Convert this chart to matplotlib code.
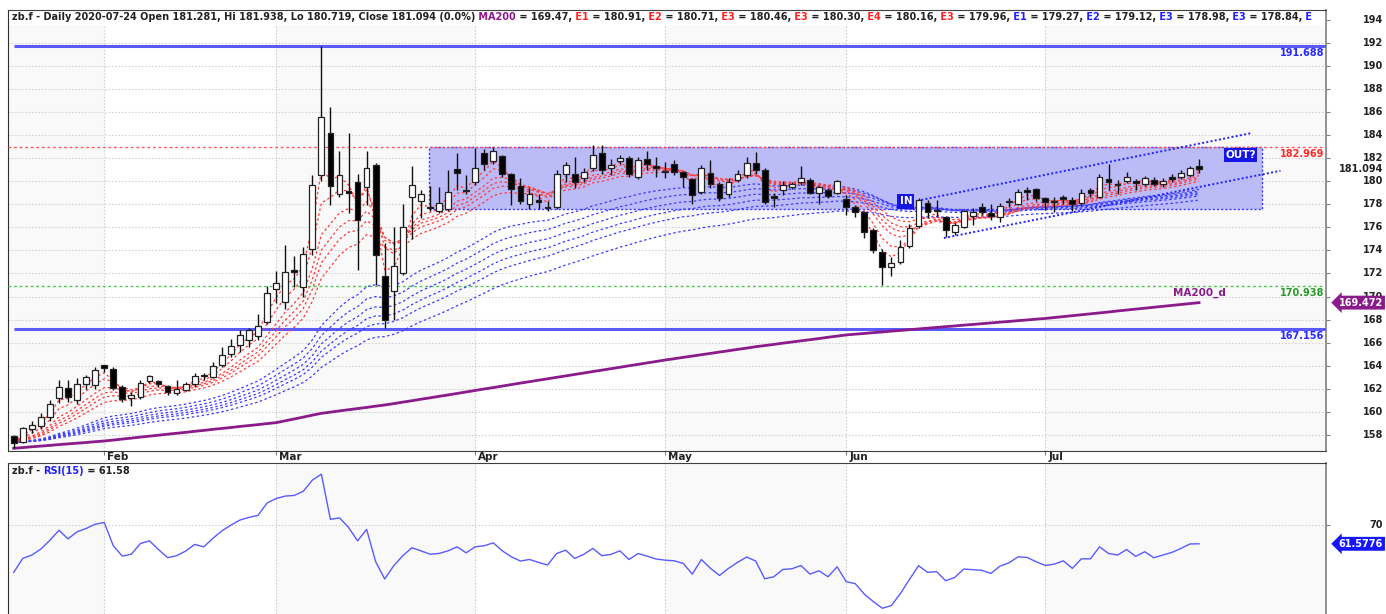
import numpy as np
import pandas as pd
import matplotlib
matplotlib.use("Agg")
import matplotlib.pyplot as plt
import matplotlib.transforms as mtransforms
from matplotlib.patches import Rectangle

# ---------------- data ----------------
opens = [157.90, 157.40, 158.50, 158.80, 159.60, 161.20, 162.10, 161.00, 162.40, 162.30,
         164.05, 163.70, 162.20, 161.20, 161.30, 162.70, 162.70, 162.25, 161.60, 161.90,
         162.40, 163.10, 163.05, 164.10, 165.00, 165.80, 166.20, 166.60, 167.80, 170.65,
         169.50, 172.30, 170.85, 174.10, 180.50, 184.15, 178.90, 179.10, 179.90, 179.50,
         181.40, 171.80, 170.50, 172.00, 178.65, 178.30, 177.75, 177.40, 177.60, 181.05,
         179.25, 179.95, 182.40, 181.75, 182.20, 180.60, 179.60, 178.00, 178.40, 177.75,
         177.80, 180.60, 180.60, 180.25, 181.10, 182.40, 181.10, 181.75, 182.00, 180.40,
         181.90, 181.25, 180.85, 181.45, 180.80, 180.20, 179.10, 180.70, 179.75, 178.85,
         180.10, 180.50, 181.60, 181.00, 178.65, 179.20, 179.50, 179.90, 180.10, 178.95,
         179.20, 179.00, 178.45, 177.75, 177.30, 175.75, 173.90, 172.60, 173.00, 174.40,
         176.10, 178.10, 177.50, 176.85, 175.60, 176.00, 177.00, 177.80, 177.20, 176.85,
         178.25, 178.00, 179.20, 179.30, 178.50, 178.25, 178.60, 178.40, 178.10, 179.20,
         178.65, 180.20, 179.75, 180.00, 179.95, 179.75, 180.10, 179.75, 180.30, 180.40,
         180.50, 181.281]
highs = [158.00, 158.70, 159.20, 159.90, 161.00, 162.80, 162.80, 162.90, 163.20, 163.90,
         164.10, 163.90, 162.30, 161.70, 162.80, 163.20, 162.80, 162.30, 162.80, 162.60,
         163.40, 163.35, 164.30, 165.65, 166.30, 167.10, 167.30, 168.50, 170.90, 172.20,
         174.50, 173.50, 174.30, 180.50, 191.70, 186.40, 182.60, 184.20, 180.60, 182.60,
         181.60, 174.60, 176.00, 178.00, 181.30, 179.20, 179.60, 179.50, 181.00, 182.40,
         180.50, 182.85, 182.75, 183.00, 182.30, 180.70, 180.30, 179.40, 178.90, 178.30,
         181.00, 181.70, 182.10, 181.10, 183.10, 183.10, 181.90, 182.30, 182.20, 182.10,
         182.60, 182.10, 181.70, 181.80, 180.90, 180.30, 181.40, 181.80, 179.90, 180.30,
         181.00, 182.10, 182.50, 181.10, 178.95, 180.00, 179.90, 181.30, 180.30, 179.60,
         179.40, 180.10, 178.80, 177.90, 177.45, 175.90, 174.10, 173.40, 174.90, 176.30,
         178.50, 178.40, 178.40, 177.00, 176.40, 177.50, 177.70, 178.10, 178.00, 178.10,
         178.50, 179.30, 179.50, 179.40, 178.60, 178.60, 178.80, 178.60, 179.30, 179.40,
         180.60, 181.50, 180.10, 180.80, 180.20, 180.45, 180.40, 180.30, 180.60, 181.00,
         181.30, 181.938]
lows = [156.90, 157.30, 158.20, 158.50, 159.20, 160.80, 160.90, 160.70, 162.00, 162.00,
        163.50, 161.90, 160.90, 160.50, 161.10, 162.50, 162.20, 161.50, 161.50, 161.80,
        162.20, 162.80, 162.90, 163.90, 164.80, 165.20, 165.60, 166.20, 167.60, 169.40,
        168.90, 170.80, 170.00, 173.60, 180.00, 177.90, 178.60, 177.20, 172.30, 177.90,
        171.00, 167.25, 168.00, 171.90, 175.00, 176.80, 177.40, 177.20, 177.40, 179.20,
        178.90, 179.70, 181.00, 181.50, 180.40, 177.90, 178.00, 177.60, 177.60, 177.40,
        177.60, 179.90, 179.40, 179.90, 180.90, 180.60, 180.50, 181.50, 180.40, 180.20,
        181.00, 180.40, 180.30, 180.50, 179.50, 178.00, 178.90, 179.40, 178.30, 178.60,
        179.90, 180.30, 180.60, 178.00, 177.80, 178.80, 179.30, 179.70, 178.90, 178.00,
        178.50, 178.90, 177.10, 176.90, 175.10, 173.80, 171.00, 171.80, 172.80, 174.20,
        175.90, 176.80, 176.90, 175.20, 175.30, 175.90, 176.20, 177.10, 176.60, 176.50,
        177.80, 177.90, 178.40, 178.30, 177.50, 177.30, 178.00, 177.40, 177.90, 178.60,
        178.50, 179.20, 178.90, 179.80, 179.20, 179.60, 179.60, 179.50, 179.90, 180.20,
        180.35, 180.719]
closes = [157.35, 158.60, 158.90, 159.60, 160.70, 162.20, 161.30, 162.40, 163.00, 163.60,
          163.80, 162.05, 161.15, 161.50, 162.50, 163.10, 162.45, 161.70, 161.95, 162.40,
          163.15, 163.15, 164.00, 164.90, 165.75, 166.70, 167.10, 167.45, 170.30, 171.15,
          172.10, 172.10, 173.70, 179.70, 185.60, 179.60, 180.50, 179.00, 176.60, 181.10,
          173.60, 168.00, 172.65, 176.05, 179.70, 178.90, 177.65, 178.10, 179.10, 180.70,
          179.15, 181.10, 181.50, 182.60, 180.60, 179.30, 178.30, 178.85, 178.20, 177.65,
          180.60, 181.40, 179.95, 180.80, 182.30, 180.95, 181.40, 182.00, 180.60, 181.80,
          181.45, 181.15, 180.75, 180.80, 180.40, 178.80, 181.10, 179.75, 178.50, 179.90,
          180.60, 181.60, 180.95, 178.20, 178.55, 179.70, 179.75, 180.25, 179.00, 179.45,
          178.70, 180.00, 177.80, 177.35, 175.55, 174.00, 172.55, 172.90, 174.30, 175.95,
          178.35, 177.30, 177.40, 175.75, 176.20, 177.40, 177.30, 177.35, 176.95, 177.85,
          178.15, 179.10, 179.10, 178.55, 178.15, 178.15, 178.45, 178.00, 179.00, 178.95,
          180.40, 179.90, 179.65, 180.35, 179.85, 180.25, 179.75, 180.00, 180.20, 180.70,
          181.10, 181.094]
ma200 = [156.85, 156.91, 156.98, 157.04, 157.10, 157.17, 157.23, 157.29, 157.35, 157.42,
         157.48, 157.56, 157.65, 157.73, 157.82, 157.90, 157.98, 158.07, 158.15, 158.23,
         158.32, 158.40, 158.49, 158.57, 158.65, 158.74, 158.82, 158.90, 158.99, 159.07,
         159.23, 159.39, 159.55, 159.72, 159.88, 159.98, 160.09, 160.19, 160.29, 160.39,
         160.50, 160.60, 160.72, 160.85, 160.97, 161.10, 161.22, 161.35, 161.47, 161.60,
         161.73, 161.86, 161.99, 162.11, 162.24, 162.37, 162.50, 162.62, 162.75, 162.87,
         163.00, 163.12, 163.25, 163.37, 163.50, 163.62, 163.75, 163.87, 164.00, 164.12,
         164.25, 164.37, 164.50, 164.61, 164.73, 164.84, 164.96, 165.07, 165.19, 165.30,
         165.42, 165.53, 165.65, 165.75, 165.85, 165.96, 166.06, 166.16, 166.26, 166.36,
         166.47, 166.57, 166.67, 166.74, 166.80, 166.87, 166.93, 167.00, 167.06, 167.13,
         167.19, 167.26, 167.32, 167.39, 167.45, 167.52, 167.58, 167.65, 167.71, 167.78,
         167.84, 167.91, 167.97, 168.04, 168.10, 168.18, 168.26, 168.34, 168.42, 168.50,
         168.58, 168.66, 168.75, 168.83, 168.91, 168.99, 169.07, 169.15, 169.23, 169.31,
         169.39, 169.47]
rsi15 = [48.7, 55.0, 56.5, 59.2, 63.2, 67.7, 63.8, 67.0, 68.5, 70.4,
         71.2, 60.7, 56.0, 56.9, 61.7, 62.9, 59.0, 55.3, 56.2, 58.3,
         61.3, 60.2, 64.0, 67.4, 70.0, 72.3, 73.5, 74.4, 80.0, 82.0,
         83.1, 83.4, 85.3, 90.3, 93.0, 72.6, 73.3, 69.0, 62.9, 68.1,
         53.5, 45.7, 51.7, 56.2, 59.8, 58.4, 56.9, 57.2, 58.4, 60.2,
         57.5, 60.2, 60.7, 62.0, 58.4, 55.7, 53.8, 54.5, 53.2, 52.0,
         57.2, 58.7, 55.0, 56.8, 59.5, 56.2, 56.8, 58.4, 54.5, 57.2,
         56.0, 54.7, 54.2, 53.9, 52.7, 47.9, 54.5, 50.5, 47.3, 50.5,
         53.2, 55.6, 53.8, 45.8, 46.7, 50.0, 50.3, 51.8, 47.9, 49.4,
         46.7, 51.2, 44.5, 43.6, 38.9, 35.5, 32.5, 33.7, 39.2, 45.5,
         51.7, 48.7, 49.0, 44.9, 46.4, 50.2, 49.9, 49.6, 48.2, 51.5,
         53.0, 55.7, 55.4, 53.5, 51.8, 52.4, 53.9, 50.5, 54.8, 54.8,
         60.2, 57.2, 56.5, 59.0, 55.9, 58.0, 55.3, 56.5, 57.7, 59.5,
         61.5, 61.58]

month_labels = ["Feb", "Mar", "Apr", "May", "Jun", "Jul"]
month_starts = [10, 29, 51, 72, 92, 114]
price_ticks = list(range(158, 196, 2))
ema_red_spans = [3, 5, 8, 10, 12, 15]
ema_blue_spans = [30, 35, 40, 45, 50, 60]
level_resist = 191.688
level_box_top = 182.969
level_green = 170.938
level_support = 167.156
box_bottom = 177.6
box_left, box_right = 45.9, 138.0
chan_upper_x, chan_upper_y = [100.3, 136.7], [178.37, 184.15]
chan_lower_x, chan_lower_y = [102.8, 140.0], [175.07, 180.90]
last_close = 181.094
last_ma200 = 169.472
last_rsi = 61.5776

header_parts = [
    ("zb.f - Daily 2020-07-24 Open 181.281, Hi 181.938, Lo 180.719, Close 181.094 (0.0%)", "#222222"),
    (" MA200", "#8b1a8b"), (" = 169.47,", "#222222"),
    (" E1", "#ff2020"), (" = 180.91,", "#222222"),
    (" E2", "#ff2020"), (" = 180.71,", "#222222"),
    (" E3", "#ff2020"), (" = 180.46,", "#222222"),
    (" E3", "#ff2020"), (" = 180.30,", "#222222"),
    (" E4", "#ff2020"), (" = 180.16,", "#222222"),
    (" E3", "#ff2020"), (" = 179.96,", "#222222"),
    (" E1", "#2020ff"), (" = 179.27,", "#222222"),
    (" E2", "#2020ff"), (" = 179.12,", "#222222"),
    (" E3", "#2020ff"), (" = 178.98,", "#222222"),
    (" E3", "#2020ff"), (" = 178.84,", "#222222"),
    (" E", "#2020ff"),
]
rsi_header_parts = [("zb.f - ", "#222222"), ("RSI(15)", "#2020ff"), (" = 61.58", "#222222")]

# ---------------- figure ----------------
W, H = 1386, 614
fig = plt.figure(figsize=(W / 100, H / 100), dpi=100)
fig.patch.set_facecolor("white")
L, R = 8.3, 1325.7
ax = fig.add_axes([L / W, 1 - 450.7 / H, (R - L) / W, (450.7 - 10) / H])
ax2 = fig.add_axes([L / W, 0, (R - L) / W, (H - 463.3) / H])

n = len(closes)
x = np.arange(n)
xlim = (-0.6, 145.0)
for a in (ax, ax2):
    a.set_xlim(*xlim)
    a.set_facecolor("white")
    bounds = [xlim[0]] + month_starts + [xlim[1]]
    for k in range(len(bounds) - 1):
        if k % 2 == 0:
            a.axvspan(bounds[k], bounds[k + 1], color="#f9f9f9", lw=0, zorder=0)
    for m in month_starts:
        a.axvline(m, color="#cfcfcf", lw=0.8, ls=(0, (1.5, 1.5)), zorder=1)

ax.set_ylim(156.64, 194.83)
ax2.set_ylim(29.9, 97.9)

for v in price_ticks:
    ax.axhline(v, color="#d4d4d4", lw=0.8, ls=(0, (1.5, 1.5)), zorder=1)
ax2.axhline(70, color="#d4d4d4", lw=0.8, ls=(0, (1.5, 1.5)), zorder=1)

ax.add_patch(Rectangle((0, 1 - 15 / 440.7), 1, 15 / 440.7, transform=ax.transAxes,
                       facecolor="white", edgecolor="none", zorder=1.5))

# box zone
ax.add_patch(Rectangle((box_left, box_bottom), box_right - box_left, level_box_top - box_bottom,
                       facecolor="#bbbbf8", edgecolor="#3a3aff", lw=1.0, ls=(0, (1.5, 1.5)), zorder=2))

# horizontal levels
ax.hlines(level_resist, 0, xlim[1], color="#5a5aff", lw=2.2, zorder=3)
ax.hlines(level_support, 0, xlim[1], color="#5a5aff", lw=2.2, zorder=3)
ax.hlines(level_box_top, xlim[0], xlim[1], color="#ff5a5a", lw=1.0, ls=(0, (2, 2)), zorder=3)
ax.hlines(level_green, xlim[0], xlim[1], color="#50c850", lw=1.0, ls=(0, (2, 2)), zorder=3)

# MA200
ax.plot(x, ma200, color="#8b1a8b", lw=2.0, zorder=4)

# EMA ribbons (computed from the closes)
cs = pd.Series(closes)
for sp in ema_blue_spans:
    ax.plot(x, cs.ewm(span=sp, adjust=False).mean(), color="#3c3cff", lw=0.9,
            ls=(0, (2, 2)), zorder=4.5)
for sp in ema_red_spans:
    ax.plot(x, cs.ewm(span=sp, adjust=False).mean(), color="#ff3c3c", lw=0.9,
            ls=(0, (2, 2)), zorder=4.6)

# channel lines
ax.plot(chan_upper_x, chan_upper_y, color="#2020ff", lw=1.4, ls=(0, (1, 1.2)), zorder=4.7)
ax.plot(chan_lower_x, chan_lower_y, color="#2020ff", lw=1.4, ls=(0, (1, 1.2)), zorder=4.7)

# candles
o = np.array(opens); c = np.array(closes); hi = np.array(highs); lo = np.array(lows)
ax.vlines(x, lo, hi, color="#111111", lw=1.0, zorder=5)
up = c >= o
body_low = np.minimum(o, c)
body_h = np.maximum(np.abs(c - o), 0.12)
ax.bar(x, body_h, bottom=body_low, width=0.64,
       color=np.where(up, "white", "black"), edgecolor="#222222", linewidth=0.9, zorder=6)

# RSI
ax2.plot(x, rsi15, color="#5a5aff", lw=1.0, zorder=4)

for a in (ax, ax2):
    a.spines["left"].set_color("#303030")
    a.spines["top"].set_color("#404040")
    a.spines["right"].set_color("#8a8a8a")
    a.spines["right"].set_linewidth(1.3)
    a.spines["bottom"].set_color("#404040")
ax2.spines["bottom"].set_visible(False)

ax.set_xticks(month_starts)
ax.tick_params(axis="x", direction="out", length=3, color="#808080", labelbottom=False)
ax2.set_xticks([])
ax.set_yticks(price_ticks)
ax.tick_params(axis="y", left=False, labelleft=False, right=True, labelright=False,
               direction="out", length=3, color="#808080")
ax2.set_yticks([70])
ax2.tick_params(axis="y", left=False, labelleft=False, right=True, labelright=False,
                direction="out", length=3, color="#808080")

FS = 7
lab_x = 1 + (1383 - R) / (R - L)
tr_main = mtransforms.blended_transform_factory(ax.transAxes, ax.transData)
tr_rsi = mtransforms.blended_transform_factory(ax2.transAxes, ax2.transData)
for v in price_ticks:
    ax.text(lab_x, v, str(v), transform=tr_main, ha="right", va="center",
            fontsize=FS, fontweight="bold", color="#222222", clip_on=False, zorder=1)
ax2.text(lab_x, 70, "70", transform=tr_rsi, ha="right", va="center",
         fontsize=FS, fontweight="bold", color="#222222", clip_on=False)

tr_x = mtransforms.blended_transform_factory(ax.transData, ax.transAxes)
for m, lab in zip(month_starts, month_labels):
    ax.text(m + 0.35, -6.8 / 440.7, lab, transform=tr_x, ha="left", va="center",
            fontsize=7.5, fontweight="bold", color="#222222", clip_on=False)

def level_label(val, txt, col):
    ax.annotate(txt, xy=(1, val), xycoords=tr_main, xytext=(-1, -1.5), textcoords="offset points",
                ha="right", va="top", fontsize=FS, fontweight="bold", color=col, zorder=8)

level_label(level_resist, "191.688", "#2a2aff")
level_label(level_box_top, "182.969", "#ff2a2a")
level_label(level_green, "170.938", "#2a9a2a")
level_label(level_support, "167.156", "#2a2aff")

ax.annotate("MA200_d", xy=(n - 1, ma200[-1]), xytext=(0, 3), textcoords="offset points",
            ha="center", va="bottom", fontsize=7.5, fontweight="bold", color="#8b1a8b", zorder=8)

ax.text(98.6, 178.24, "IN", ha="center", va="center", fontsize=7.5, fontweight="bold", color="white",
        bbox=dict(boxstyle="square,pad=0.2", fc="#1515e6", ec="none"), zorder=9)
ax.text(135.6, 182.27, "OUT?", ha="center", va="center", fontsize=7.5, fontweight="bold", color="white",
        bbox=dict(boxstyle="square,pad=0.15", fc="#1515e6", ec="none"), zorder=9)

ax.text(lab_x, last_close, "181.094", transform=tr_main, ha="right", va="center", fontsize=FS,
        fontweight="bold", color="#222222", clip_on=False, zorder=10,
        bbox=dict(boxstyle="larrow,pad=0.2", fc="white", ec="none"))
ax.text(lab_x, last_ma200, "169.472", transform=tr_main, ha="right", va="center", fontsize=FS,
        fontweight="bold", color="white", clip_on=False, zorder=10,
        bbox=dict(boxstyle="larrow,pad=0.2", fc="#8b1a8b", ec="none"))
ax2.text(lab_x, last_rsi, "61.5776", transform=tr_rsi, ha="right", va="center", fontsize=FS,
         fontweight="bold", color="white", clip_on=False, zorder=10,
         bbox=dict(boxstyle="larrow,pad=0.2", fc="#1515ff", ec="none"))

def chain_text(axis, parts, x0, y0):
    prev = axis.text(x0, y0, parts[0][0], transform=axis.transAxes, ha="left", va="center",
                     fontsize=FS, fontweight="bold", color=parts[0][1], zorder=10, clip_on=True)
    for txt, col in parts[1:]:
        prev = axis.annotate(txt, xy=(1, 0.5), xycoords=prev, ha="left", va="center",
                             fontsize=FS, fontweight="bold", color=col, zorder=10,
                             annotation_clip=False, clip_on=True)

chain_text(ax, header_parts, (12 - L) / (R - L), 1 - 7.5 / 440.7)
chain_text(ax2, rsi_header_parts, (12 - L) / (R - L), 1 - 8 / 150.7)

fig.savefig("out.png", dpi=100)
